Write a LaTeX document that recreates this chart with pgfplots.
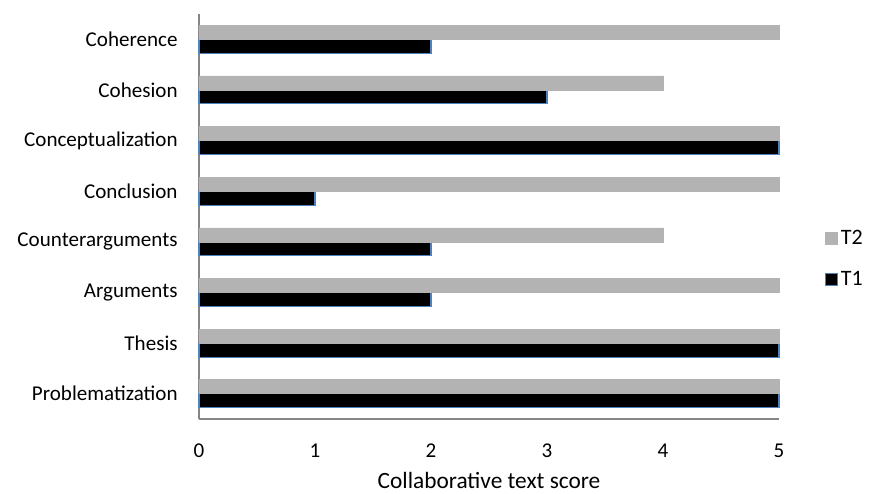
\documentclass[border=0pt]{standalone}
\usepackage{fontspec}
\setmainfont{Carlito}
\usepackage{pgfplots}
\pgfplotsset{compat=1.18}
\definecolor{tgray}{RGB}{179,179,179}
\definecolor{tblue}{RGB}{79,129,189}
\definecolor{axgray}{RGB}{134,134,134}
\begin{document}
\begin{tikzpicture}
\begin{axis}[
  scale only axis, width=435pt, height=303.75pt,
  clip=false,
  xbar,
  xmin=0, xmax=5,
  ymin=-0.5, ymax=7.5,
  axis x line*=bottom, axis y line*=left,
  axis line style={axgray, line width=1.2pt, -},
  xtick={0,1,2,3,4,5},
  ytick={0,1,2,3,4,5,6,7},
  yticklabels={Problematization, Thesis\hspace{3pt}, Arguments\hspace{3pt}, Counterarguments\hspace{3pt}, Conclusion, Conceptualization, Cohesion, Coherence},
  major tick length=0pt,
  tick style={draw=none},
  xticklabel style={yshift=-15pt},
  yticklabel style={xshift=-12.5pt},
  /pgf/number format/assume math mode=true,
  tick label style={font=\fontsize{15.8}{18}\selectfont},
  xlabel={Collaborative text score},
  xlabel style={font=\fontsize{17.5}{20}\selectfont, yshift=-4pt},
  bar width=10.5pt,
  legend style={draw=none, at={(1.079,0.396)}, anchor=west, inner sep=0pt, font=\fontsize{16.5}{19}\selectfont, row sep=15pt, fill=none,
    nodes={inner xsep=2pt}},
  legend cell align=left,
  reverse legend,
  legend image code/.code={\draw[#1] (0pt,-4.5pt) rectangle (9pt,4.5pt);},
]
\addplot[fill=black, draw=tblue, line width=0.8pt, bar shift=-5.25pt] coordinates {
(5,0) (5,1) (2,2) (2,3) (1,4) (5,5) (3,6) (2,7)};
\addplot[fill=tgray, draw=tgray, line width=0.4pt, bar shift=5.25pt] coordinates {
(5,0) (5,1) (5,2) (4,3) (5,4) (5,5) (4,6) (5,7)};
\legend{T1,T2}
\path (rel axis cs:-0.3431,-0.1827) rectangle (rel axis cs:1.1586,1.0346);
\end{axis}
\end{tikzpicture}
\end{document}
